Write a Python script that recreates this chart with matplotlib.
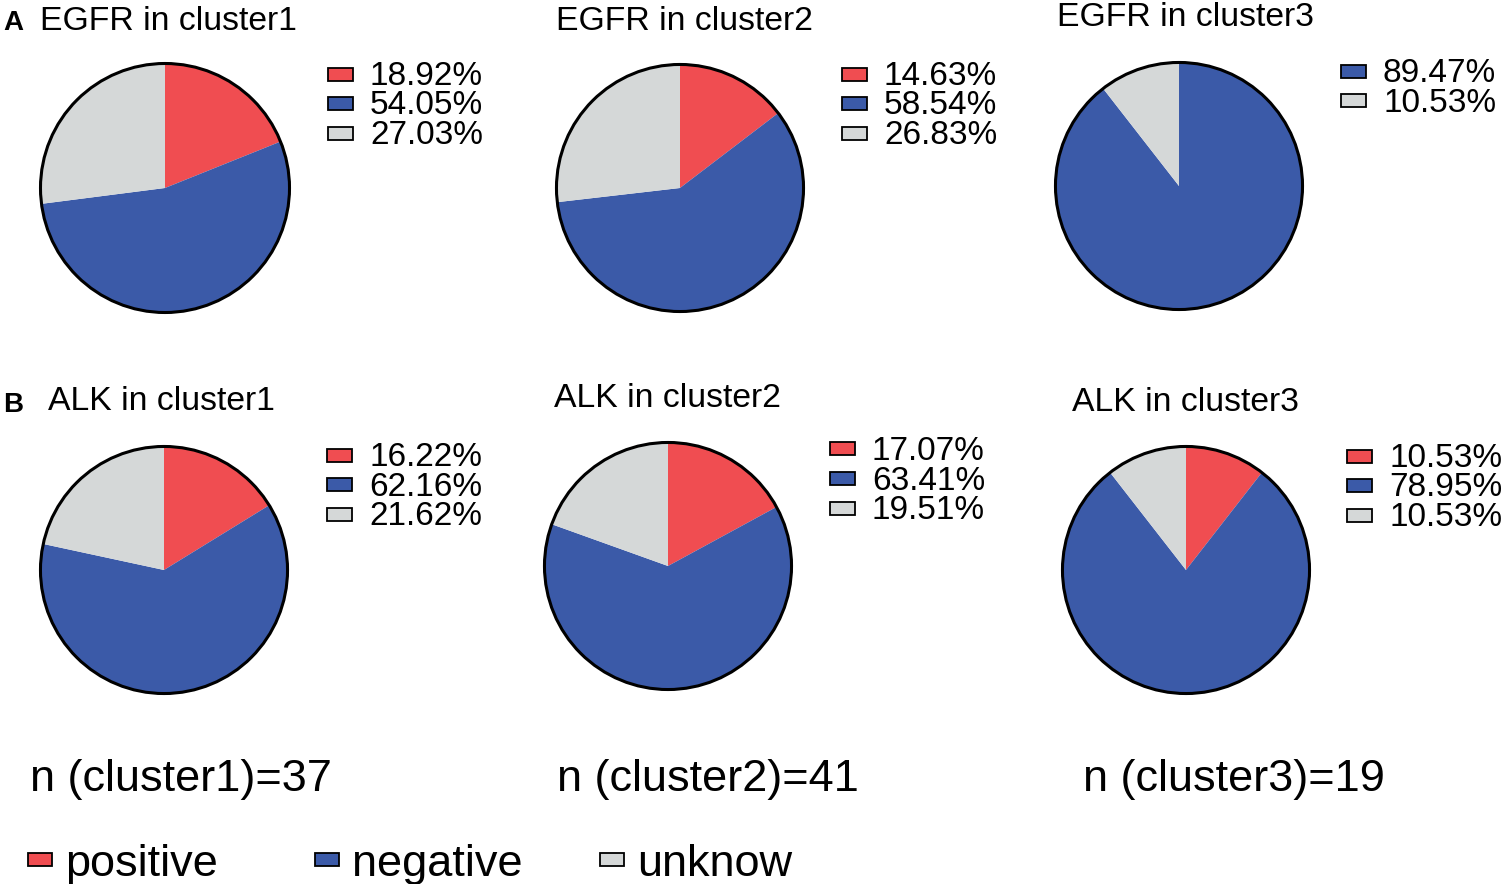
import matplotlib.pyplot as plt
from matplotlib.patches import Rectangle, Circle

plt.rcParams['font.family'] = ['Liberation Sans', 'DejaVu Sans']

W, H = 1503, 884

groups = ['positive', 'negative', 'unknow']
colors = ['#F04D51', '#3B5AA8', '#D5D8D8']
clusters = ['cluster1', 'cluster2', 'cluster3']
cluster_n = [37, 41, 19]

egfr_pct = [[18.92, 54.05, 27.03],
            [14.63, 58.54, 26.83],
            [0.00, 89.47, 10.53]]
alk_pct = [[16.22, 62.16, 21.62],
           [17.07, 63.41, 19.51],
           [10.53, 78.95, 10.53]]

# layout in pixels (centre x, centre y, radius) per pie, plus title / legend spots
pie_pos = [[(165, 188, 127), (680, 188, 126), (1179, 186, 126)],
           [(164, 570, 126), (668, 566, 126), (1186, 570, 126)]]
title_pos = [[(40, 30), (556, 30), (1057, 26)],
             [(48, 410), (554, 407), (1072, 411)]]
leg_pos = [[(328, 74), (842, 74), (1341, 71)],
           [(327, 455), (830, 449), (1347, 456)]]
genes = ['EGFR', 'ALK']
panel = ['A', 'B']
panel_y = [30, 412]


def fx(x):
    return x / W


def fy(y):
    return 1 - y / H


def marker(fig, x, ycen, c, w=25, h=13):
    fig.add_artist(Rectangle((fx(x), fy(ycen + h / 2)), w / W, h / H,
                             transform=fig.transFigure, facecolor=c,
                             edgecolor='black', linewidth=1.3))


fig = plt.figure(figsize=(W / 100, H / 100), dpi=100)

for row, data in enumerate([egfr_pct, alk_pct]):
    fig.text(fx(3), fy(panel_y[row]), panel[row], fontsize=20,
             fontweight='bold', va='baseline')
    for k in range(3):
        cx, cy, r = pie_pos[row][k]
        ax = fig.add_axes([fx(cx - r), fy(cy + r), 2 * r / W, 2 * r / H])
        vals = [v for v in data[k] if v > 0]
        cols = [c for v, c in zip(data[k], colors) if v > 0]
        ax.pie(vals, colors=cols, startangle=90, counterclock=False,
               radius=1, wedgeprops=dict(linewidth=0))
        ax.add_patch(Circle((0, 0), 1, fill=False, edgecolor='black',
                            linewidth=2.2))
        ax.set_xlim(-1.02, 1.02)
        ax.set_ylim(-1.02, 1.02)
        ax.set_aspect('equal')
        ax.axis('off')

        tx, ty = title_pos[row][k]
        fig.text(fx(tx), fy(ty), f'{genes[row]} in {clusters[k]}',
                 fontsize=24.3, va='baseline')

        lx, ly = leg_pos[row][k]
        i = 0
        for v, c in zip(data[k], colors):
            if v <= 0:
                continue
            yc = ly + i * 29.5
            marker(fig, lx, yc, c)
            fig.text(fx(lx + 42), fy(yc + 11), f'{v:.2f}%', fontsize=24,
                     va='baseline')
            i += 1

n_x = [30, 557, 1083]
for k in range(3):
    fig.text(fx(n_x[k]), fy(791), f'n ({clusters[k]})={cluster_n[k]}',
             fontsize=32.5, va='baseline')

bl_x = [28, 315, 600]
for k in range(3):
    marker(fig, bl_x[k], 859, colors[k], w=24, h=13)
    fig.text(fx(bl_x[k] + 37), fy(876), groups[k], fontsize=32.5,
             va='baseline')

fig.savefig('out.png', dpi=100)
